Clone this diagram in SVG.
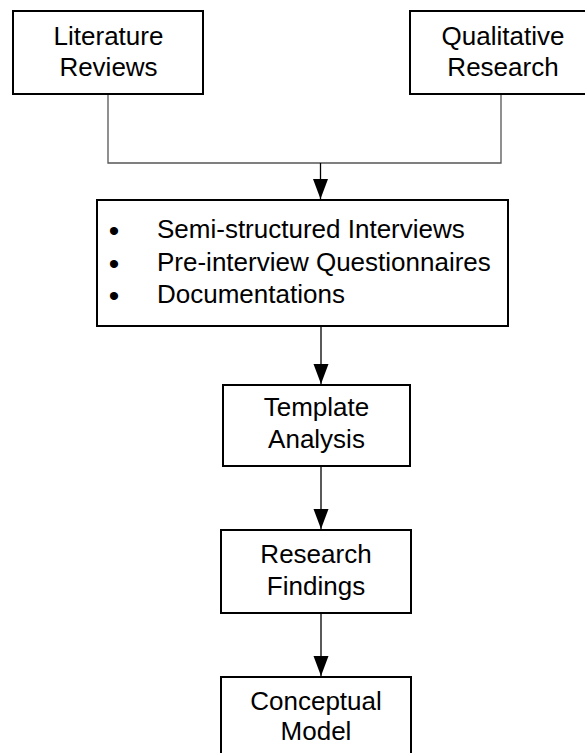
<svg xmlns="http://www.w3.org/2000/svg" width="585" height="753" viewBox="0 0 585 753">
  <style>
    .box { fill: #ffffff; stroke: #000000; stroke-width: 2; }
    .lbl { font-family: "Liberation Sans", Arial, sans-serif; font-size: 26px; fill: #000000; text-anchor: middle; }
    .item { font-family: "Liberation Sans", Arial, sans-serif; font-size: 26px; fill: #000000; }
    .dot { font-family: "Liberation Sans", Arial, sans-serif; font-size: 30px; fill: #000000; text-anchor: middle; }
    .join { fill: none; stroke: #555555; stroke-width: 1.3; }
    .flow { fill: none; stroke: #000000; stroke-width: 1.3; }
  </style>
  <defs>
    <marker id="arrow" markerUnits="userSpaceOnUse" markerWidth="22" markerHeight="16" refX="20" refY="7.5" orient="auto">
      <path d="M0,0 L20,7.5 L0,15 Z" fill="#000000"/>
    </marker>
  </defs>

  <rect width="585" height="753" fill="#ffffff"/>

  <!-- connectors -->
  <g id="connectors">
    <path class="join" d="M108,95 V163 H501 V95"/>
    <path class="flow" d="M320.5,163 V199" marker-end="url(#arrow)"/>
    <path class="flow" d="M321,327 V384" marker-end="url(#arrow)"/>
    <path class="flow" d="M321,466 V529" marker-end="url(#arrow)"/>
    <path class="flow" d="M321,613 V676" marker-end="url(#arrow)"/>
  </g>

  <g id="literature-reviews">
    <rect class="box" x="13" y="11" width="190" height="83"/>
    <text class="lbl" x="108.5" y="45">Literature</text>
    <text class="lbl" x="108.5" y="76">Reviews</text>
  </g>

  <g id="qualitative-research">
    <rect class="box" x="410" y="11" width="190" height="83"/>
    <text class="lbl" x="503" y="45">Qualitative</text>
    <text class="lbl" x="503" y="76">Research</text>
  </g>

  <g id="data-collection">
    <rect class="box" x="97" y="200" width="411" height="126"/>
    <text class="dot" x="114" y="241">•</text>
    <text class="item" x="157" y="238">Semi-structured Interviews</text>
    <text class="dot" x="114" y="274">•</text>
    <text class="item" x="157" y="271">Pre-interview Questionnaires</text>
    <text class="dot" x="114" y="306">•</text>
    <text class="item" x="157" y="303">Documentations</text>
  </g>

  <g id="template-analysis">
    <rect class="box" x="223" y="385" width="187" height="81"/>
    <text class="lbl" x="316.5" y="416">Template</text>
    <text class="lbl" x="316.5" y="448">Analysis</text>
  </g>

  <g id="research-findings">
    <rect class="box" x="221" y="530" width="190" height="83"/>
    <text class="lbl" x="316" y="563">Research</text>
    <text class="lbl" x="316" y="595">Findings</text>
  </g>

  <g id="conceptual-model">
    <rect class="box" x="221" y="677" width="190" height="90"/>
    <text class="lbl" x="316" y="710">Conceptual</text>
    <text class="lbl" x="316" y="740">Model</text>
  </g>
</svg>
